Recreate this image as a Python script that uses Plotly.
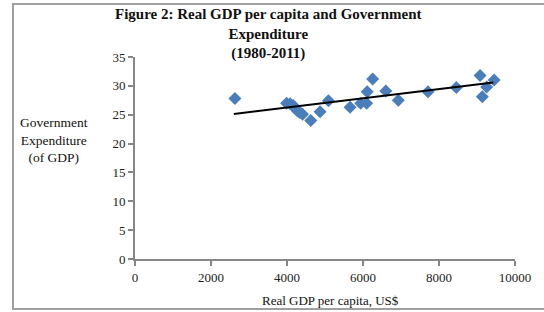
import plotly.graph_objects as go

# Data
gdp_per_capita = [2630, 3990, 4080, 4165, 4200, 4270, 4300, 4340, 4410, 4625, 4870, 5090,
                  5660, 5940, 6095, 6110, 6255, 6600, 6930, 7710, 8455, 9080, 9140, 9255, 9450]
gov_expenditure = [27.8, 27.0, 26.9, 26.6, 26.2, 25.7, 25.6, 25.4, 25.1, 24.0, 25.5, 27.4,
                   26.3, 27.0, 27.0, 29.0, 31.2, 29.1, 27.5, 29.0, 29.7, 31.8, 28.1, 29.8, 31.0]
trend_x = [2600, 9430]
trend_slope = 0.000799
trend_intercept = 23.04
trend_y = [trend_intercept + trend_slope * x for x in trend_x]

x_ticks = [0, 2000, 4000, 6000, 8000, 10000]
x_tick_labels = ["0", "2000", "4000", "6000", "8000", "10000"]
y_ticks = [0, 5, 10, 15, 20, 25, 30, 35]

title_lines = ["Figure 2: Real GDP per capita and Government", "Expenditure", "(1980-2011)"]
y_title_lines = ["Government", "Expenditure", "(of GDP)"]
x_title = "Real GDP per capita, US$"

W, H = 544, 312
L, R, T, B = 135, 29, 57, 53
pw, ph = W - L - R, H - T - B

def px(xpix):
    return (xpix - L) / pw

def py(ypix):
    return (H - B - ypix) / ph

fig = go.Figure()
fig.add_trace(go.Scatter(x=gdp_per_capita, y=gov_expenditure, mode="markers",
                         marker=dict(symbol="diamond", size=10, color="#4A7EBB",
                                     line=dict(width=0)),
                         showlegend=False, cliponaxis=False))
fig.add_trace(go.Scatter(x=trend_x, y=trend_y, mode="lines",
                         line=dict(color="black", width=2), showlegend=False))

axis_col = "#868686"
tick_font = dict(family="Liberation Serif", size=13, color="#222")
fig.update_xaxes(range=[0, 10000], tickvals=x_ticks, ticktext=x_tick_labels,
                 showgrid=False, zeroline=False,
                 showline=True, linecolor=axis_col, linewidth=2, ticks="outside",
                 ticklen=5, tickcolor=axis_col, tickwidth=1.5, tickfont=tick_font)
fig.update_yaxes(range=[0, 35], tickvals=y_ticks, showgrid=False, zeroline=False,
                 showline=True, linecolor=axis_col, linewidth=2, ticks="outside",
                 ticklen=5, tickcolor=axis_col, tickwidth=1.5, tickfont=tick_font)

annotations = [
    dict(text="<b>" + "<br>".join(title_lines) + "</b>", xref="paper", yref="paper",
         x=px(268), y=py(4), xanchor="center", yanchor="top", showarrow=False, align="center",
         font=dict(family="Liberation Serif", size=15, color="#111")),
    dict(text="<br>".join(y_title_lines), xref="paper", yref="paper",
         x=px(54), y=py(140), xanchor="center", yanchor="middle", showarrow=False,
         align="center", font=dict(family="Liberation Serif", size=13.5, color="#111")),
    dict(text=x_title, xref="paper", yref="paper",
         x=px(330), y=py(300), xanchor="center", yanchor="middle", showarrow=False,
         font=dict(family="Liberation Serif", size=13, color="#111")),
]

fig.update_layout(
    width=W, height=H, margin=dict(l=L, r=R, t=T, b=B),
    paper_bgcolor="white", plot_bgcolor="white",
    font=dict(family="Liberation Serif", color="#111"),
    shapes=[dict(type="rect", xref="paper", yref="paper",
                 x0=px(13), x1=px(560), y0=py(309), y1=py(4),
                 line=dict(color="#A0A0A0", width=2), fillcolor="rgba(0,0,0,0)", layer="below")],
    annotations=annotations,
)

fig.write_html("out.html", config={"displayModeBar": False},
               post_script="document.body.style.margin='0';document.body.style.overflow='hidden';")
